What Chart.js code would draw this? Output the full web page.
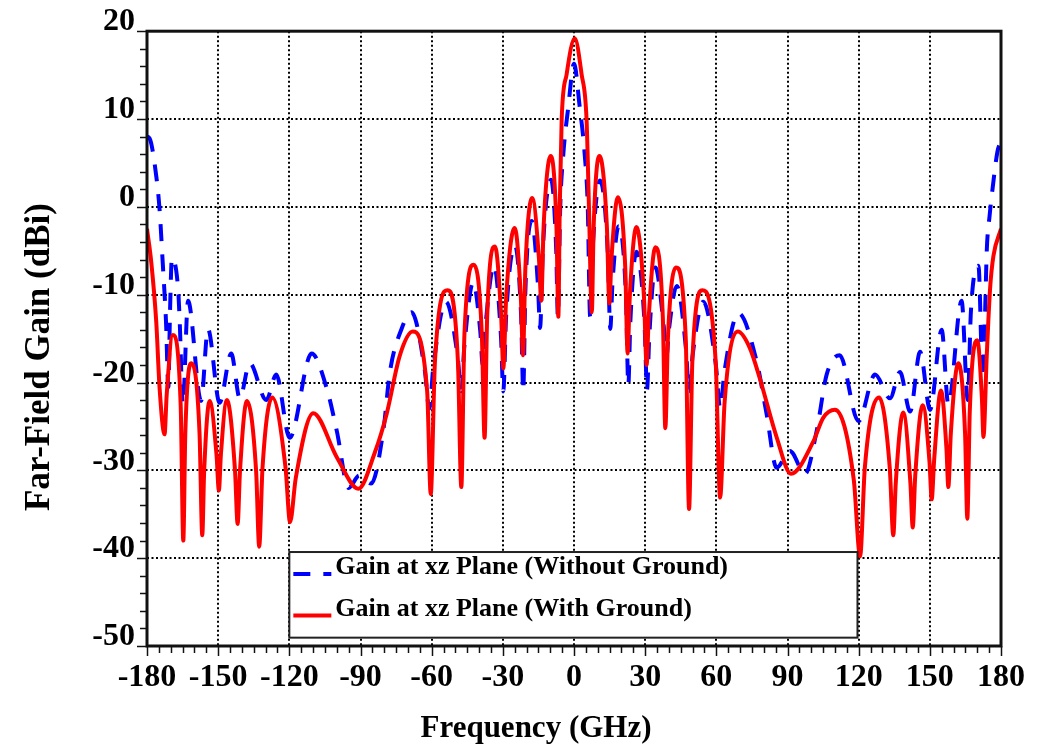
<!DOCTYPE html>
<html><head><meta charset="utf-8">
<script src="https://cdn.jsdelivr.net/npm/chart.js@4.4.1/dist/chart.umd.min.js"></script>
<style>html,body{margin:0;padding:0;background:#fff;}canvas{display:block;}</style>
</head><body>
<canvas id="c" width="1041" height="749"></canvas>
<script>
// ---- data ----
const xTickLabels = [-180, -150, -120, -90, -60, -30, 0, 30, 60, 90, 120, 150, 180];
const yTickLabels = [-50, -40, -30, -20, -10, 0, 10, 20];
const xTitle = 'Frequency (GHz)';
const yTitle = 'Far-Field Gain (dBi)';
const seriesNames = ['Gain at xz Plane (Without Ground)', 'Gain at xz Plane (With Ground)'];

const blueAngle = [-180, -178.9, -176.1, -174.7, -173.3, -172.0, -171.0, -170.3, -169.5, -166.9, -166.2, -164.9, -162.7, -157.2, -154.3, -149.4, -144.5, -140.9, -136.7, -129.7, -125.5, -119.9, -110.6, -104.3, -100, -95, -90.5, -85.5, -80.4, -77.6, -72.7, -68.5, -62.9, -61, -59.25, -54, -49.1, -47.5, -46.25, -42.5, -39.5, -38.5, -37.3, -33.7, -30.8, -29.8, -28.6, -24.9, -22.3, -21.4, -20.5, -17.8, -15.2, -14.3, -13.15, -9.7, -7.5, -6.8, -5.8, -4.5, -2.4, 0, 2.4, 4.5, 5.8, 6.8, 7.85, 11.0, 14.2, 15.3, 16.2, 18.8, 21.9, 22.9, 23.75, 26.3, 29.7, 30.8, 31.7, 34.3, 37.8, 39.0, 40.1, 43.3, 47.2, 48.5, 50.0, 54.5, 59.8, 61.6, 63.5, 69.3, 77, 81.2, 85.4, 91, 97.4, 102.3, 106.5, 112, 119.9, 126.9, 133.2, 137.4, 141.7, 145.9, 150.1, 155, 157.8, 163.4, 166, 167.3, 170.5, 172.3, 173.3, 174.0, 175.2, 176.5, 178.5, 180];
const blueGain = [8.0, 7.8, 3.5, -0.3, -6.7, -13.0, -20.5, -12.0, -5.8, -9.3, -13.1, -22.5, -10.7, -22.1, -13.9, -22.3, -16.7, -21.8, -17.8, -22.0, -19.1, -26.3, -16.7, -20.6, -25.5, -32.0, -30.6, -31.5, -25.5, -18.8, -13.9, -12.0, -18.6, -23.0, -18.1, -10.8, -16.9, -21.0, -16.0, -8.6, -14.2, -18.0, -13.5, -6.7, -14.7, -21.0, -12.4, -4.4, -12.4, -21.0, -9.6, -1.6, -8.9, -13.8, -4.9, 3.1, -4.9, -12.5, 0, 6, 11.4, 16.3, 11.4, 6, 0, -12.5, -4.9, 3.0, -5.0, -13.9, -8.8, -2.2, -10.2, -20.3, -13.1, -5.1, -13.1, -20.8, -14.9, -6.9, -13.5, -17.0, -13.8, -9.0, -16.2, -21.0, -16.9, -10.8, -18.0, -22.9, -18.6, -12.1, -17.6, -23.6, -29.7, -27.8, -30.4, -25.5, -19.1, -16.9, -24.4, -19.1, -21.8, -18.8, -23.3, -16.5, -23.1, -14.0, -22.5, -10.7, -22.0, -12.0, -6.7, -19.5, -12.0, -5.0, -1.0, 2.2, 6.3, 7.5];

const redAngle = [-180, -178.2, -176.1, -174.7, -172.6, -171.7, -169.1, -165.8, -164.7, -163.85, -161.3, -157.85, -156.7, -155.9, -153.6, -150.7, -149.7, -148.85, -146.3, -142.9, -141.8, -140.8, -137.9, -134.0, -132.7, -131.3, -127.2, -121.6, -119.7, -117.3, -109.9, -100, -90.9, -84, -79, -73.4, -68, -61.9, -60.4, -58.6, -53.3, -48.95, -47.5, -46.2, -42.3, -38.85, -37.7, -36.6, -33.3, -30.7, -29.8, -28.6, -25.0, -22.4, -21.5, -20.5, -17.6, -14.75, -13.8, -12.8, -9.8, -7.4, -6.6, -6.0, -5.2, -3.1, 0.3, 3.2, 5.3, 6.3, 7.5, 8.3, 10.7, 13.85, 14.9, 15.8, 18.5, 21.6, 22.6, 23.5, 26.3, 29.5, 30.6, 31.5, 34.3, 37.45, 38.5, 39.6, 43.0, 47.1, 48.5, 49.9, 54.1, 59.7, 61.6, 63.5, 69.1, 74, 78.4, 85.5, 91.5, 100.9, 105.1, 110, 117.95, 120.6, 122.6, 128.6, 133.1, 134.6, 135.65, 138.8, 141.8, 142.8, 143.85, 147.0, 149.85, 150.8, 151.8, 154.7, 157.0, 157.8, 158.85, 162.0, 164.85, 165.8, 166.85, 170.0, 171.95, 172.6, 174.0, 175.4, 176.8, 180];
const redGain = [-2.5, -6.3, -13.1, -20.6, -25.9, -21.4, -14.6, -22.6, -38.0, -25.8, -17.8, -25.8, -37.4, -30.1, -22.1, -28.2, -32.3, -28.2, -22.0, -30.0, -36.1, -30.1, -22.1, -30.1, -38.7, -29.7, -21.7, -29.7, -35.9, -30.9, -23.5, -28.5, -32.1, -28.0, -23.6, -16.9, -14.2, -21.0, -32.7, -17.5, -9.5, -17.5, -31.9, -14.6, -6.6, -14.6, -26.3, -12.5, -4.5, -12.5, -18.4, -10.4, -2.4, -10.4, -16.9, -7.0, 1.0, -6.0, -10.7, -2.2, 5.8, -2.2, -12.5, 0, 9.9, 15.1, 19.2, 15.1, 9.9, 0, -12.0, -2.2, 5.8, -2.2, -11.0, -5.9, 1.1, -6.9, -16.7, -10.3, -2.3, -10.3, -18.0, -12.6, -4.6, -12.6, -25.2, -14.9, -6.9, -14.9, -34.4, -17.5, -9.5, -17.5, -33.1, -22.2, -14.2, -16.0, -19.6, -26.3, -30.4, -26.7, -24.0, -23.1, -31.1, -39.8, -29.7, -21.7, -29.7, -37.4, -31.4, -23.4, -31.4, -36.5, -30.6, -22.6, -29.0, -33.3, -28.9, -20.9, -27.5, -31.9, -25.8, -17.8, -25.8, -35.5, -23.2, -15.2, -21.8, -26.2, -16.9, -9.3, -5.6, -2.5];

// ---- styling ----
const FONT = "'Liberation Serif','Times New Roman',serif";
const BLUE = '#0000ff', RED = '#ff0000';
const DASH = [17, 13];

const decor = {
  id: 'decor',
  beforeDatasetsDraw(chart) {
    const {ctx, chartArea: a, scales: {x, y}} = chart;
    ctx.save();
    ctx.strokeStyle = '#000';
    ctx.lineWidth = 2;
    ctx.setLineDash([2, 2.5]);
    xTickLabels.forEach(v => {
      const px = Math.round(x.getPixelForValue(v));
      ctx.beginPath(); ctx.moveTo(px, a.top); ctx.lineTo(px, a.bottom); ctx.stroke();
    });
    yTickLabels.forEach(v => {
      const py = Math.round(y.getPixelForValue(v));
      ctx.beginPath(); ctx.moveTo(a.left, py); ctx.lineTo(a.right, py); ctx.stroke();
    });
    ctx.restore();
  },
  afterDatasetsDraw(chart) {
    const {ctx, chartArea: a, scales: {x, y}} = chart;
    ctx.save();
    ctx.setLineDash([]);
    ctx.strokeStyle = '#111';
    ctx.lineWidth = 3;
    ctx.strokeRect(a.left, a.top, a.right - a.left, a.bottom - a.top);
    ctx.lineWidth = 1.5;
    for (let v = -180; v <= 180; v += 5) {
      const px = Math.round(x.getPixelForValue(v)) + 0.5;
      const len = (v % 30 === 0) ? 10 : 7;
      ctx.beginPath(); ctx.moveTo(px, a.bottom); ctx.lineTo(px, a.bottom + len); ctx.stroke();
    }
    for (let v = -50; v <= 20; v += 2) {
      const py = Math.round(y.getPixelForValue(v)) + 0.5;
      const len = (v % 10 === 0) ? 10 : 7;
      ctx.beginPath(); ctx.moveTo(a.left, py); ctx.lineTo(a.left - len, py); ctx.stroke();
    }
    // legend box inside the plot
    const L = x.getPixelForValue(-120), R = x.getPixelForValue(119.5);
    const T = y.getPixelForValue(-39.3), B = y.getPixelForValue(-49.05);
    ctx.fillStyle = '#fff';
    ctx.fillRect(L, T, R - L, B - T);
    ctx.strokeStyle = '#222';
    ctx.lineWidth = 2;
    ctx.strokeRect(L, T, R - L, B - T);
    ctx.font = `bold 26px ${FONT}`;
    ctx.fillStyle = '#000';
    ctx.textBaseline = 'alphabetic';
    ctx.textAlign = 'left';
    const rows = [{c: BLUE, dash: DASH, dy: 22}, {c: RED, dash: [], dy: 63.5}];
    rows.forEach((r, i) => {
      ctx.strokeStyle = r.c; ctx.lineWidth = 4; ctx.setLineDash(r.dash);
      ctx.beginPath(); ctx.moveTo(L + 4, T + r.dy); ctx.lineTo(L + 42, T + r.dy); ctx.stroke();
      ctx.setLineDash([]);
      ctx.fillText(seriesNames[i], L + 46, T + r.dy);
    });
    // axis titles
    ctx.textAlign = 'center';
    ctx.textBaseline = 'middle';
    ctx.font = `bold 31px ${FONT}`;
    ctx.fillText(xTitle, 536, 729);
    ctx.font = `bold 35px ${FONT}`;
    ctx.translate(40, 357);
    ctx.rotate(-Math.PI / 2);
    ctx.fillText(yTitle, 0, 0);
    ctx.restore();
  }
};

const tickFont = {family: FONT, size: 32, weight: 'bold'};

new Chart(document.getElementById('c').getContext('2d'), {
  type: 'line',
  data: {
    datasets: [
      {label: seriesNames[0], data: blueAngle.map((a, i) => ({x: a, y: blueGain[i]})),
       borderColor: BLUE, borderWidth: 4, borderDash: DASH, pointRadius: 0,
       cubicInterpolationMode: 'monotone', fill: false, order: 1},
      {label: seriesNames[1], data: redAngle.map((a, i) => ({x: a, y: redGain[i]})),
       borderColor: RED, borderWidth: 4, pointRadius: 0,
       cubicInterpolationMode: 'monotone', fill: false, order: 0}
    ]
  },
  options: {
    responsive: false, animation: false, devicePixelRatio: 1,
    layout: {padding: {top: 27, right: 40, left: 0, bottom: 0}},
    plugins: {legend: {display: false}, tooltip: {enabled: false}},
    scales: {
      x: {type: 'linear', min: -180, max: 180,
          afterBuildTicks: s => { s.ticks = xTickLabels.map(v => ({value: v})); },
          afterFit: s => { s.height = 103; },
          grid: {display: false, drawTicks: false}, border: {display: false},
          ticks: {font: tickFont, color: '#000', padding: 13, maxRotation: 0, autoSkip: false}},
      y: {type: 'linear', min: -50, max: 20,
          afterBuildTicks: s => { s.ticks = yTickLabels.map(v => ({value: v})); },
          afterFit: s => { s.width = 147; },
          grid: {display: false, drawTicks: false}, border: {display: false},
          ticks: {font: tickFont, color: '#000', padding: 12, labelOffset: -9, autoSkip: false}}
    }
  },
  plugins: [decor]
});
</script>
</body></html>
